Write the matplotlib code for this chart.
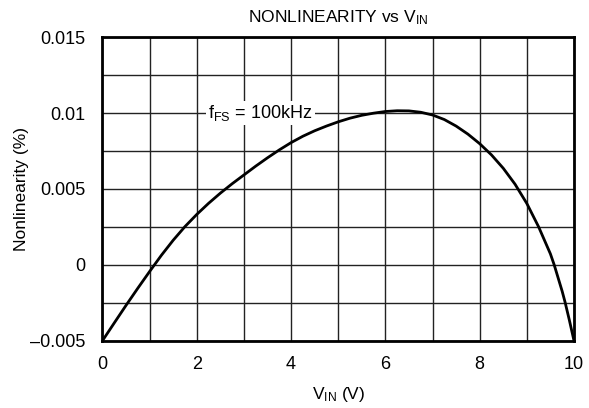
import matplotlib
matplotlib.use('agg')
import matplotlib.pyplot as plt
import numpy as np

plt.rcParams['font.family'] = ['Liberation Sans', 'DejaVu Sans']
plt.rcParams['mathtext.default'] = 'regular'

# curve (V_IN in volts, nonlinearity in %)
vin = [0, 0.25, 0.5, 0.75, 1, 1.25, 1.5, 1.75, 2, 2.25, 2.5, 2.75, 3, 3.25, 3.5, 3.75,
       4, 4.25, 4.5, 4.75, 5, 5.25, 5.5, 5.75, 6, 6.25, 6.5, 6.75, 7, 7.25, 7.5, 7.75,
       8, 8.25, 8.5, 8.75, 9, 9.25, 9.5, 9.58, 9.75, 9.81, 9.9, 10]
nonlin = [-0.005, -0.00383, -0.00267, -0.00154, -0.00044, 0.00063, 0.00162, 0.00252,
          0.00332, 0.00405, 0.00472, 0.00534, 0.00592, 0.0065, 0.00705, 0.00757,
          0.00805, 0.00847, 0.00883, 0.00914, 0.00942, 0.00966, 0.00985, 0.00999,
          0.0101, 0.01015, 0.01014, 0.01005, 0.00987, 0.00957, 0.00914, 0.00861,
          0.00798, 0.00724, 0.00636, 0.00531, 0.00404, 0.0025, 0.00072, 0.0,
          -0.00175, -0.00245, -0.00362, -0.005]

xticks = [0, 2, 4, 6, 8, 10]
yticks = [-0.005, 0, 0.005, 0.01, 0.015]
ylabels = ['\u20130.005', '0', '0.005', '0.01', '0.015']

fig = plt.figure(figsize=(5.89, 4.08), dpi=100)
ax = fig.add_axes([0.174, 0.165, 0.8005, 0.744])

ax.plot(vin, nonlin, color='black', lw=2, solid_joinstyle='round', zorder=3)

ax.set_xlim(0, 10)
ax.set_ylim(-0.005, 0.015)
ax.set_xticks(xticks)
ax.set_yticks(yticks)
ax.set_yticklabels(ylabels)
ax.set_xticks(np.arange(0, 11, 1), minor=True)
ax.set_yticks(np.arange(-0.005, 0.0151, 0.0025), minor=True)
ax.grid(which='both', color='#222222', lw=1.0)
ax.tick_params(which='both', length=0, labelsize=13)
ax.tick_params(axis='y', pad=12)
ax.tick_params(axis='x', pad=11)
for s in ax.spines.values():
    s.set_linewidth(2)
    s.set_zorder(4)

ax.set_title('NONLINEARITY vs V$_{IN}$', fontsize=12.5, pad=11)
ax.set_xlabel('V$_{IN}$ (V)', fontsize=12.5, labelpad=9)
ax.set_ylabel('Nonlinearity (%)', fontsize=12.5, labelpad=1)

ax.text(3.35, 0.01, 'f$_{FS}$ = 100kHz', fontsize=13, ha='center', va='center',
        bbox=dict(facecolor='white', edgecolor='none', pad=1.5), zorder=5)

plt.savefig('out.png', dpi=100)
